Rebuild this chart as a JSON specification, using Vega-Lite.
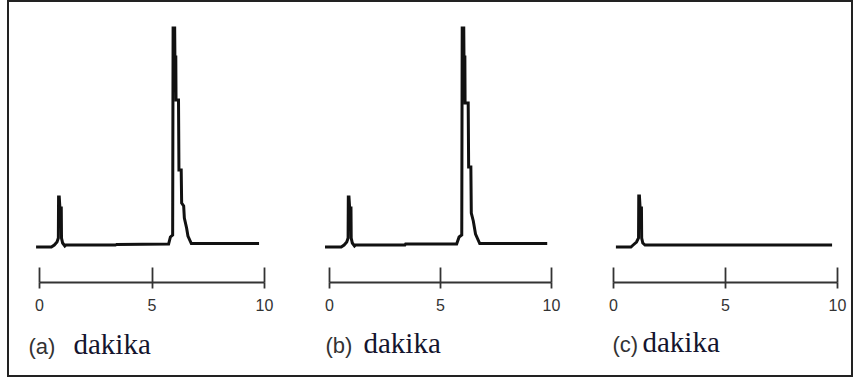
{
  "$schema": "https://vega.github.io/schema/vega-lite/v6.json",
  "width": 844,
  "height": 375,
  "autosize": "none",
  "padding": {"left": 8, "top": 1, "right": 3, "bottom": 2},
  "background": "white",
  "config": {"view": {"stroke": "#222222", "strokeWidth": 2}},
  "data": {"values": [
    {"panel": "a", "t": -0.13, "v": -1},
    {"panel": "a", "t": 0.55, "v": -1},
    {"panel": "a", "t": 0.68, "v": 1},
    {"panel": "a", "t": 0.8, "v": 4},
    {"panel": "a", "t": 0.86, "v": 8},
    {"panel": "a", "t": 0.87, "v": 49},
    {"panel": "a", "t": 0.9, "v": 49},
    {"panel": "a", "t": 0.93, "v": 38},
    {"panel": "a", "t": 0.99, "v": 38},
    {"panel": "a", "t": 1.0, "v": 8},
    {"panel": "a", "t": 1.05, "v": 3},
    {"panel": "a", "t": 1.15, "v": 0},
    {"panel": "a", "t": 1.2, "v": 1},
    {"panel": "a", "t": 3.4, "v": 1},
    {"panel": "a", "t": 3.45, "v": 1.5},
    {"panel": "a", "t": 5.76, "v": 2},
    {"panel": "a", "t": 5.84, "v": 9},
    {"panel": "a", "t": 5.94, "v": 11},
    {"panel": "a", "t": 5.96, "v": 218},
    {"panel": "a", "t": 6.03, "v": 218},
    {"panel": "a", "t": 6.04, "v": 189},
    {"panel": "a", "t": 6.08, "v": 189},
    {"panel": "a", "t": 6.09, "v": 146},
    {"panel": "a", "t": 6.2, "v": 146},
    {"panel": "a", "t": 6.22, "v": 76},
    {"panel": "a", "t": 6.32, "v": 76},
    {"panel": "a", "t": 6.34, "v": 43},
    {"panel": "a", "t": 6.43, "v": 40},
    {"panel": "a", "t": 6.46, "v": 28},
    {"panel": "a", "t": 6.56, "v": 18},
    {"panel": "a", "t": 6.62, "v": 10},
    {"panel": "a", "t": 6.77, "v": 2.5},
    {"panel": "a", "t": 9.78, "v": 2.5},
    {"panel": "b", "t": -0.18, "v": -1},
    {"panel": "b", "t": 0.55, "v": -1},
    {"panel": "b", "t": 0.68, "v": 1},
    {"panel": "b", "t": 0.8, "v": 4},
    {"panel": "b", "t": 0.86, "v": 8},
    {"panel": "b", "t": 0.87, "v": 49},
    {"panel": "b", "t": 0.9, "v": 49},
    {"panel": "b", "t": 0.93, "v": 38},
    {"panel": "b", "t": 0.99, "v": 38},
    {"panel": "b", "t": 1.0, "v": 8},
    {"panel": "b", "t": 1.05, "v": 3},
    {"panel": "b", "t": 1.15, "v": 0},
    {"panel": "b", "t": 1.2, "v": 1},
    {"panel": "b", "t": 3.42, "v": 1},
    {"panel": "b", "t": 3.45, "v": 2},
    {"panel": "b", "t": 5.75, "v": 2},
    {"panel": "b", "t": 5.86, "v": 9},
    {"panel": "b", "t": 5.98, "v": 11},
    {"panel": "b", "t": 6.0, "v": 218},
    {"panel": "b", "t": 6.07, "v": 218},
    {"panel": "b", "t": 6.08, "v": 189},
    {"panel": "b", "t": 6.12, "v": 189},
    {"panel": "b", "t": 6.13, "v": 143},
    {"panel": "b", "t": 6.27, "v": 143},
    {"panel": "b", "t": 6.29, "v": 79},
    {"panel": "b", "t": 6.39, "v": 79},
    {"panel": "b", "t": 6.41, "v": 33},
    {"panel": "b", "t": 6.5, "v": 25},
    {"panel": "b", "t": 6.6, "v": 12},
    {"panel": "b", "t": 6.79, "v": 2.5},
    {"panel": "b", "t": 9.83, "v": 2.5},
    {"panel": "c", "t": 0.13, "v": -1},
    {"panel": "c", "t": 0.8, "v": -1},
    {"panel": "c", "t": 0.9, "v": 1},
    {"panel": "c", "t": 1.05, "v": 4},
    {"panel": "c", "t": 1.14, "v": 8},
    {"panel": "c", "t": 1.15, "v": 50},
    {"panel": "c", "t": 1.18, "v": 50},
    {"panel": "c", "t": 1.21, "v": 38},
    {"panel": "c", "t": 1.27, "v": 38},
    {"panel": "c", "t": 1.28, "v": 8},
    {"panel": "c", "t": 1.33, "v": 3},
    {"panel": "c", "t": 1.43, "v": 1},
    {"panel": "c", "t": 9.78, "v": 1}
  ]},
  "layer": [
    {
      "transform": [{"filter": {"field": "panel", "equal": "a"}}],
      "layer": [
        {
          "mark": {"type": "line", "color": "#111111", "strokeWidth": 3},
          "encoding": {
            "x": {"field": "t", "type": "quantitative",
              "scale": {"domain": [0, 10], "range": [31, 256], "nice": false, "zero": false},
              "axis": {"orient": "bottom", "offset": -94, "values": [0, 5, 10], "grid": false,
                "domain": true, "domainColor": "#333333", "domainWidth": 1.8,
                "ticks": true, "tickColor": "#333333", "tickWidth": 1.8, "tickSize": 6,
                "labelFont": "Liberation Sans", "labelFontSize": 16, "labelColor": "#333333", "labelPadding": 9,
                "labelFlush": false, "labelOverlap": false,
                "title": "dakika", "titleFont": "Liberation Serif", "titleFontSize": 29, "titleFontWeight": "normal",
                "titleColor": "#14142e", "titleAlign": "left", "titleBaseline": "alphabetic", "titleX": 65, "titleY": 71}},
            "y": {"field": "v", "type": "quantitative", "scale": {"domain": [-130, 245], "nice": false, "zero": false}, "axis": null}
          }
        },
        {
          "mark": {"type": "line", "opacity": 0},
          "encoding": {
            "x": {"field": "t", "type": "quantitative",
              "axis": {"orient": "bottom", "offset": -109, "values": [0, 5, 10], "grid": false,
                "domain": false, "ticks": true, "tickColor": "#333333", "tickWidth": 1.8, "tickSize": 15, "labels": false,
                "title": "(a)", "titleFont": "Liberation Sans", "titleFontSize": 22, "titleFontWeight": "normal",
                "titleColor": "#333333", "titleAlign": "left", "titleBaseline": "alphabetic", "titleX": 20, "titleY": 86}},
            "y": {"field": "v", "type": "quantitative", "axis": null}
          }
        }
      ],
      "resolve": {"axis": {"x": "independent"}}
    },
    {
      "transform": [{"filter": {"field": "panel", "equal": "b"}}],
      "layer": [
        {
          "mark": {"type": "line", "color": "#111111", "strokeWidth": 3},
          "encoding": {
            "x": {"field": "t", "type": "quantitative",
              "scale": {"domain": [0, 10], "range": [321, 543], "nice": false, "zero": false},
              "axis": {"orient": "bottom", "offset": -94, "values": [0, 5, 10], "grid": false,
                "domain": true, "domainColor": "#333333", "domainWidth": 1.8,
                "ticks": true, "tickColor": "#333333", "tickWidth": 1.8, "tickSize": 6,
                "labelFont": "Liberation Sans", "labelFontSize": 16, "labelColor": "#333333", "labelPadding": 9,
                "labelFlush": false, "labelOverlap": false,
                "title": "dakika", "titleFont": "Liberation Serif", "titleFontSize": 29, "titleFontWeight": "normal",
                "titleColor": "#14142e", "titleAlign": "left", "titleBaseline": "alphabetic", "titleX": 355, "titleY": 70}},
            "y": {"field": "v", "type": "quantitative", "axis": null}
          }
        },
        {
          "mark": {"type": "line", "opacity": 0},
          "encoding": {
            "x": {"field": "t", "type": "quantitative",
              "axis": {"orient": "bottom", "offset": -109, "values": [0, 5, 10], "grid": false,
                "domain": false, "ticks": true, "tickColor": "#333333", "tickWidth": 1.8, "tickSize": 15, "labels": false,
                "title": "(b)", "titleFont": "Liberation Sans", "titleFontSize": 22, "titleFontWeight": "normal",
                "titleColor": "#333333", "titleAlign": "left", "titleBaseline": "alphabetic", "titleX": 317, "titleY": 85}},
            "y": {"field": "v", "type": "quantitative", "axis": null}
          }
        }
      ],
      "resolve": {"axis": {"x": "independent"}}
    },
    {
      "transform": [{"filter": {"field": "panel", "equal": "c"}}],
      "layer": [
        {
          "mark": {"type": "line", "color": "#111111", "strokeWidth": 3},
          "encoding": {
            "x": {"field": "t", "type": "quantitative",
              "scale": {"domain": [0, 10], "range": [605, 829], "nice": false, "zero": false},
              "axis": {"orient": "bottom", "offset": -94, "values": [0, 5, 10], "grid": false,
                "domain": true, "domainColor": "#333333", "domainWidth": 1.8,
                "ticks": true, "tickColor": "#333333", "tickWidth": 1.8, "tickSize": 6,
                "labelFont": "Liberation Sans", "labelFontSize": 16, "labelColor": "#333333", "labelPadding": 9,
                "labelFlush": false, "labelOverlap": false,
                "title": "dakika", "titleFont": "Liberation Serif", "titleFontSize": 29, "titleFontWeight": "normal",
                "titleColor": "#14142e", "titleAlign": "left", "titleBaseline": "alphabetic", "titleX": 634, "titleY": 69}},
            "y": {"field": "v", "type": "quantitative", "axis": null}
          }
        },
        {
          "mark": {"type": "line", "opacity": 0},
          "encoding": {
            "x": {"field": "t", "type": "quantitative",
              "axis": {"orient": "bottom", "offset": -109, "values": [0, 5, 10], "grid": false,
                "domain": false, "ticks": true, "tickColor": "#333333", "tickWidth": 1.8, "tickSize": 15, "labels": false,
                "title": "(c)", "titleFont": "Liberation Sans", "titleFontSize": 22, "titleFontWeight": "normal",
                "titleColor": "#333333", "titleAlign": "left", "titleBaseline": "alphabetic", "titleX": 604, "titleY": 84}},
            "y": {"field": "v", "type": "quantitative", "axis": null}
          }
        }
      ],
      "resolve": {"axis": {"x": "independent"}}
    }
  ],
  "resolve": {"scale": {"x": "independent"}}
}
